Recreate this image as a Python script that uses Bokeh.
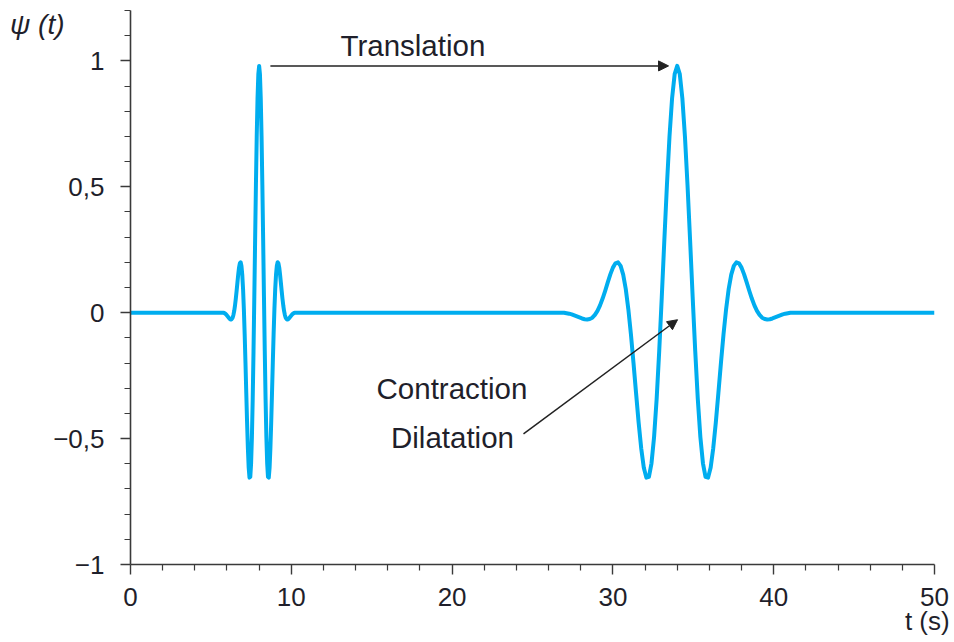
from bokeh.plotting import figure
from bokeh.models import FixedTicker, Label, Arrow, NormalHead, Range1d, LinearAxis
from bokeh.embed import file_html
from bokeh.resources import INLINE

# ---- data ----
# mother wavelet (narrow), centred at t = 8 s
t_w1 = [5.80, 5.85, 5.90, 5.95, 6.00, 6.05, 6.10, 6.15, 6.20, 6.25, 6.30, 6.35, 6.40, 6.45, 6.50,
        6.55, 6.60, 6.65, 6.70, 6.75, 6.80, 6.85, 6.90, 6.95, 7.00, 7.05, 7.10, 7.15, 7.20, 7.25,
        7.30, 7.35, 7.40, 7.45, 7.50, 7.55, 7.60, 7.65, 7.70, 7.75, 7.80, 7.85, 7.90, 7.95, 8.00,
        8.05, 8.10, 8.15, 8.20, 8.25, 8.30, 8.35, 8.40, 8.45, 8.50, 8.55, 8.60, 8.65, 8.70, 8.75,
        8.80, 8.85, 8.90, 8.95, 9.00, 9.05, 9.10, 9.15, 9.20, 9.25, 9.30, 9.35, 9.40, 9.45, 9.50,
        9.55, 9.60, 9.65, 9.70, 9.75, 9.80, 9.85, 9.90, 9.95, 10.00, 10.05, 10.10, 10.15, 10.20]

# translated and dilated wavelet, centred at t = 34 s
t_w2 = [26.96, 27.12, 27.28, 27.44, 27.60, 27.76, 27.92, 28.08, 28.24, 28.40, 28.56, 28.72, 28.88,
        29.04, 29.20, 29.36, 29.52, 29.68, 29.84, 30.00, 30.16, 30.32, 30.48, 30.64, 30.80, 30.96,
        31.12, 31.28, 31.44, 31.60, 31.76, 31.92, 32.08, 32.24, 32.40, 32.56, 32.72, 32.88, 33.04,
        33.20, 33.36, 33.52, 33.68, 33.84, 34.00, 34.16, 34.32, 34.48, 34.64, 34.80, 34.96, 35.12,
        35.28, 35.44, 35.60, 35.76, 35.92, 36.08, 36.24, 36.40, 36.56, 36.72, 36.88, 37.04, 37.20,
        37.36, 37.52, 37.68, 37.84, 38.00, 38.16, 38.32, 38.48, 38.64, 38.80, 38.96, 39.12, 39.28,
        39.44, 39.60, 39.76, 39.92, 40.08, 40.24, 40.40, 40.56, 40.72, 40.88, 41.04]

# psi(t) values at those sample points (same shape for both wavelets)
psi_w = [0.000, -0.002, -0.004, -0.007, -0.011, -0.015, -0.019, -0.023, -0.026, -0.027, -0.025,
         -0.020, -0.009, 0.007, 0.029, 0.056, 0.087, 0.120, 0.152, 0.179, 0.196, 0.200, 0.186,
         0.151, 0.094, 0.014, -0.085, -0.199, -0.319, -0.436, -0.538, -0.615, -0.655, -0.652,
         -0.598, -0.494, -0.343, -0.153, 0.063, 0.289, 0.507, 0.700, 0.851, 0.947, 0.980, 0.947,
         0.851, 0.700, 0.507, 0.289, 0.063, -0.153, -0.343, -0.494, -0.598, -0.652, -0.655,
         -0.615, -0.538, -0.436, -0.319, -0.199, -0.085, 0.014, 0.094, 0.151, 0.186, 0.200,
         0.196, 0.179, 0.152, 0.120, 0.087, 0.056, 0.029, 0.007, -0.009, -0.020, -0.025, -0.027,
         -0.026, -0.023, -0.019, -0.015, -0.011, -0.007, -0.004, -0.002, 0.000]

t_start, t_end = 0.0, 50.0

x_major = [0, 10, 20, 30, 40, 50]
x_minor = [2, 4, 6, 8, 12, 14, 16, 18, 22, 24, 26, 28, 32, 34, 36, 38, 42, 44, 46, 48]
y_major = [-1, -0.5, 0, 0.5, 1]
y_minor = [-0.9, -0.8, -0.7, -0.6, -0.4, -0.3, -0.2, -0.1, 0.1, 0.2, 0.3, 0.4,
           0.6, 0.7, 0.8, 0.9, 1.1, 1.2]
y_labels = {-1: "\u22121", -0.5: "\u22120,5", 0: "0", 0.5: "0,5", 1: "1"}

# y-axis title sits level with this value, left of the tick labels
psi_title_y = 1.143
psi_title = "\u03c8 (t)"

# annotation anchors (data units)
translation_from = (8.7, 0.98)
translation_to = (33.46, 0.98)
scale_from = (24.44, -0.481)
scale_to = (34.02, -0.028)

t_all = [t_start] + t_w1 + t_w2 + [t_end]
psi_all = [0.0] + psi_w + psi_w + [0.0]

FONT = "Liberation Sans"
TXT = "#1f1f2b"
AX = "#3a3a3a"

p = figure(width=954, height=642, output_backend="svg", toolbar_location=None,
           x_range=Range1d(0, 50), y_range=Range1d(-1, 1.2),
           min_border_left=130, min_border_right=20, min_border_top=10, min_border_bottom=78)
p.outline_line_color = None
p.xgrid.visible = False
p.ygrid.visible = False
p.background_fill_color = "white"
p.border_fill_color = "white"

p.line(t_all, psi_all, line_color="#00adef", line_width=4, line_join="round")

for ax in (p.xaxis[0], p.yaxis[0]):
    ax.axis_line_color = AX
    ax.axis_line_width = 1.6
    ax.major_tick_line_color = AX
    ax.minor_tick_line_color = AX
    ax.major_tick_line_width = 1.4
    ax.minor_tick_line_width = 1.2
    ax.major_tick_in = 0
    ax.minor_tick_in = 0
    ax.major_tick_out = 10
    ax.minor_tick_out = 6
    ax.major_label_text_font = FONT
    ax.major_label_text_font_size = "26px"
    ax.major_label_text_color = TXT
    ax.axis_label_text_font = FONT
    ax.axis_label_text_color = TXT

p.xaxis.ticker = FixedTicker(ticks=x_major, minor_ticks=x_minor)
p.yaxis.ticker = FixedTicker(ticks=y_major, minor_ticks=y_minor)
p.yaxis.major_label_overrides = y_labels
p.xaxis.major_label_standoff = 13
p.yaxis.major_label_standoff = 16

p.xaxis.axis_label = "t (s)\u00a0\u00a0"
p.xaxis.axis_label_align = "end"
p.xaxis.axis_label_standoff = -3
p.xaxis.axis_label_text_font_size = "26px"
p.xaxis.axis_label_text_font_style = "normal"

# the y-axis title: a tick-less, line-less second axis whose single label is "ψ (t)"
title_axis = LinearAxis(ticker=FixedTicker(ticks=[psi_title_y], minor_ticks=[]),
                        major_label_overrides={psi_title_y: psi_title},
                        axis_line_color=None, major_tick_line_color=None,
                        minor_tick_line_color=None, major_tick_in=0, major_tick_out=0,
                        minor_tick_in=0, minor_tick_out=0, major_label_standoff=-14,
                        major_label_text_font=FONT, major_label_text_font_size="28px",
                        major_label_text_font_style="italic", major_label_text_color=TXT)
p.add_layout(title_axis, "left")

def lab(x, y, text, size="29.5px"):
    p.add_layout(Label(x=x, y=y, text=text, text_font=FONT, text_font_size=size,
                       text_color=TXT, text_align="left", text_baseline="alphabetic"))

lab(13.06, 1.061, "Translation")
lab(15.3, -0.301, "Contraction")
lab(16.2, -0.496, "Dilatation")

for a, b in ((translation_from, translation_to), (scale_from, scale_to)):
    p.add_layout(Arrow(end=NormalHead(size=10, fill_color="#222222", line_color="#222222",
                                      line_width=1),
                       x_start=a[0], y_start=a[1], x_end=b[0], y_end=b[1],
                       line_color="#222222", line_width=1.5))

open("out.html", "w").write(file_html(p, INLINE))
